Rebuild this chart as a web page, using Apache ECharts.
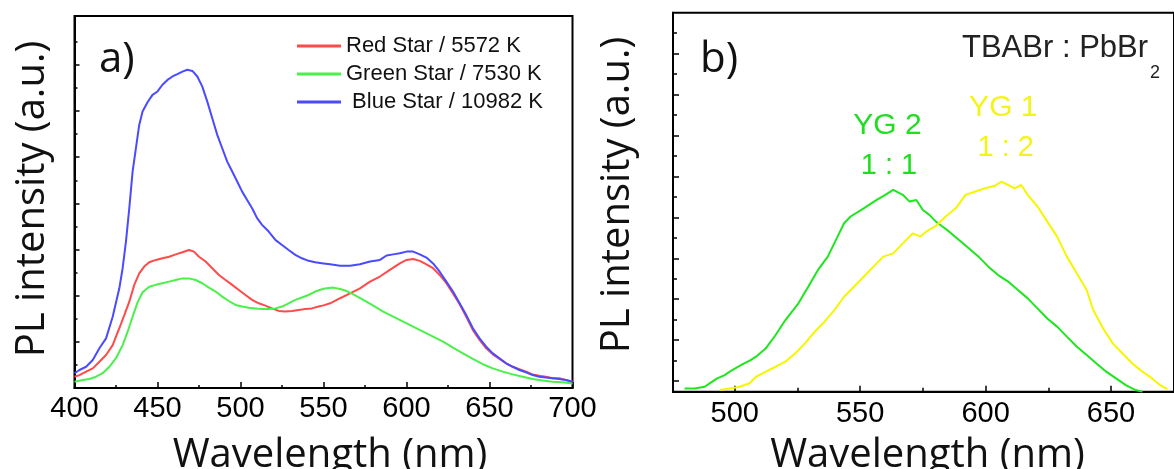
<!DOCTYPE html>
<html><head><meta charset="utf-8">
<script src="https://cdn.jsdelivr.net/npm/echarts@6/dist/echarts.min.js"></script>
<style>html,body{margin:0;padding:0;background:#fff}#c{width:1174px;height:469px}</style>
</head><body><div id="c"></div>
<script>
// ---- Panel a) data (PL intensity, arbitrary units) ----
const redX = [400,403,407,411,415,419,423,427,430,433,436,439,442,445,449,453,457,461,465,469,472,475,479,483,487,491,495,499,503,507,511,515,519,523,527,531,535,539,543,547,550,554,560,566,572,578,584,590,596,600,604,608,612,616,620,624,628,632,636,640,644,648,652,656,660,664,668,672,676,680,684,688,692,696,700];
const redY = [0.49,0.56,0.71,0.85,1.14,1.43,1.86,2.59,3.16,3.74,4.47,4.97,5.26,5.45,5.55,5.62,5.69,5.79,5.88,5.98,5.91,5.69,5.48,5.19,4.9,4.68,4.47,4.25,4.03,3.82,3.67,3.57,3.45,3.34,3.31,3.34,3.38,3.42,3.45,3.53,3.58,3.67,3.89,4.1,4.32,4.61,4.83,5.12,5.4,5.55,5.59,5.51,5.36,5.19,4.9,4.54,4.1,3.63,3.09,2.51,2.08,1.72,1.46,1.26,1.07,0.92,0.82,0.71,0.59,0.53,0.49,0.42,0.42,0.35,0.27];
const greenX = [400,405,409,413,417,421,425,429,432,435,438,441,445,449,453,457,461,465,469,473,477,481,485,489,493,497,501,505,509,513,517,521,525,529,533,537,541,545,550,552,556,560,564,568,574,580,586,592,598,604,610,616,622,628,634,640,646,652,658,664,670,676,682,688,694,700];
const greenY = [0.27,0.35,0.39,0.49,0.64,0.92,1.29,1.86,2.44,3.09,3.71,4.15,4.39,4.47,4.54,4.61,4.68,4.75,4.75,4.68,4.54,4.35,4.18,3.96,3.77,3.6,3.53,3.48,3.45,3.42,3.42,3.45,3.53,3.67,3.82,3.92,4.03,4.18,4.3,4.32,4.35,4.29,4.2,4.06,3.82,3.57,3.31,3.09,2.88,2.66,2.44,2.23,2.01,1.75,1.5,1.26,1.03,0.85,0.71,0.59,0.49,0.39,0.33,0.27,0.25,0.2];
const blueX = [400,403,407,411,415,419,423,427,429,431,433,435,437,439,441,444,447,450,453,456,459,462,465,468,471,474,477,480,483,486,489,492,495,498,501,504,507,510,513,517,521,525,529,533,537,541,545,550,554,560,566,572,578,584,588,592,596,600,604,608,612,616,620,624,628,632,636,640,644,648,652,656,660,664,668,672,676,680,684,688,692,696,700];
const blueY = [0.64,0.78,0.92,1.21,1.72,2.15,3.09,4.32,5.19,6.34,7.79,9.38,10.39,11.4,11.98,12.38,12.7,12.85,13.14,13.35,13.5,13.6,13.71,13.79,13.74,13.5,13.06,12.41,11.69,10.97,10.39,9.81,9.38,8.95,8.51,8.15,7.79,7.36,7.07,6.78,6.42,6.2,5.98,5.77,5.62,5.51,5.45,5.4,5.36,5.3,5.3,5.36,5.48,5.55,5.74,5.79,5.84,5.91,5.91,5.79,5.65,5.4,5.04,4.61,4.18,3.67,3.16,2.59,2.15,1.79,1.5,1.29,1.07,0.92,0.78,0.68,0.56,0.49,0.45,0.42,0.39,0.35,0.27];
const seriesNamesA = ['Red Star / 5572 K', 'Green Star / 7530 K', ' Blue Star / 10982 K'];

// ---- Panel b) data ----
const yg2X = [480,484,488,490,493,496,499,503,506,508.5,512.4,516.3,520.2,525.4,529.3,533.2,537.1,541,543.6,546.2,551.4,556.6,560,563.2,567,569.7,572.4,575,577.6,580.2,582.8,585.5,589.4,593.3,597.2,601.1,605,609,612.9,616.8,620.7,624.6,628.5,632.4,636.4,640.3,644.2,648.1,652,655.9,659.8,662.5];
const yg2Y = [-0.36,-0.36,-0.28,-0.11,0.13,0.29,0.54,0.81,1.0,1.19,1.6,2.25,2.98,3.8,4.61,5.43,6.08,7.06,7.71,8.04,8.44,8.85,9.1,9.34,9.1,8.77,8.85,8.36,8.12,7.79,7.55,7.3,6.89,6.49,6.08,5.59,5.18,4.86,4.45,4.04,3.55,3.06,2.66,2.17,1.68,1.27,0.86,0.46,0.13,-0.2,-0.44,-0.52];
const yg1X = [494.1,498,502,505.9,508.5,512.4,516.3,520.2,524.1,528,531.9,535.8,539.7,543.6,547.5,551.4,555.3,559.2,563.2,567,571,574,576.3,580.2,584.1,588.1,592,595.9,599.8,603.7,606.3,609,611.6,614.2,616.8,620.7,624.6,628.5,632.4,636.4,640.3,642.9,646.8,650.7,654.6,658.5,662.5,666.4,669.6,672.5];
const yg1Y = [-0.44,-0.36,-0.28,-0.11,0.21,0.46,0.7,0.95,1.35,1.84,2.41,2.9,3.47,4.12,4.61,5.1,5.59,6.08,6.24,6.73,7.22,7.06,7.3,7.58,8.04,8.44,9.1,9.26,9.42,9.54,9.75,9.58,9.42,9.58,9.1,8.53,7.79,7.06,6.08,5.26,4.45,3.47,2.58,1.84,1.35,0.86,0.46,0.13,-0.2,-0.4];

// ---- Tick values ----
const xTicksA = [400,450,500,550,600,650,700];
const yMajorA = [2,4,6,8,10,12,14];
const yMinorA = [1,3,5,7,9,11,13,15];
const xMajorB = [500,550,600,650];
const xMinorB = [525,575,625];
const yMajorB = [0,2,4,6,8,10,12,14,16];
const yMinorB = [1,3,5,7,9,11,13,15,17];

const zip = (xs, ys) => xs.map((x, i) => [x, ys[i]]);
const BLACK = '#000';
const TICKFONT = 'Liberation Sans';
const TITLEFONT = "'Open Sans', 'Noto Sans', sans-serif";

function lineAxisStyle(show) {
  return {show: show, onZero: false, lineStyle: {color: BLACK, width: 2}};
}
function tickStyle(len, values) {
  const t = {show: true, inside: true, length: len, lineStyle: {color: BLACK, width: 1.5}};
  if (values) t.customValues = values;
  return t;
}

function txt(x, y, text, font, fill, align, rot) {
  return {
    type: 'text', x: x, y: y, rotation: rot || 0, z: 100,
    style: {text: text, font: font, fill: fill,
      textAlign: align || 'center', textVerticalAlign: 'middle',
      align: align || 'center', verticalAlign: 'middle'}
  };
}

// place the subscript right after the formula text
const formulaFont = '31px ' + TICKFONT;
const formulaText = 'TBABr : PbBr';
const mctx = document.createElement('canvas').getContext('2d');
mctx.font = formulaFont;
const formulaX = 962;
const subX = formulaX + mctx.measureText(formulaText).width + 2;

const chart = echarts.init(document.getElementById('c'), null, {renderer: 'canvas'});
chart.setOption({
  animation: false,
  backgroundColor: '#fff',
  grid: [
    {left: 74.5, top: 16, width: 498, height: 372, show: true, borderColor: BLACK, borderWidth: 2, backgroundColor: 'transparent'},
    {left: 673, top: 12.7, right: -9, height: 379, show: true, borderColor: BLACK, borderWidth: 2, backgroundColor: 'transparent'}
  ],
  xAxis: [
    {gridIndex: 0, type: 'value', min: 400, max: 700, interval: 50,
      axisLine: lineAxisStyle(true), axisTick: tickStyle(6),
      minorTick: {show: true, splitNumber: 2, length: 3, lineStyle: {color: BLACK, width: 1.5}},
      axisLabel: {margin: 6, fontSize: 29, fontFamily: TICKFONT, color: BLACK},
      splitLine: {show: false}, minorSplitLine: {show: false}},
    {gridIndex: 1, type: 'value', min: 475.4, max: 675.1, position: 'bottom',
      axisLine: lineAxisStyle(true), axisTick: tickStyle(6, xMajorB),
      axisLabel: {margin: 8, fontSize: 29, fontFamily: TICKFONT, color: BLACK, customValues: xMajorB},
      splitLine: {show: false}},
    {gridIndex: 1, type: 'value', min: 475.4, max: 675.1, position: 'bottom',
      axisLine: lineAxisStyle(false), axisTick: tickStyle(4, xMinorB),
      axisLabel: {show: false}, splitLine: {show: false}}
  ],
  yAxis: [
    {gridIndex: 0, type: 'value', min: 0, max: 16.12, position: 'left',
      axisLine: lineAxisStyle(true), axisTick: tickStyle(5, yMajorA),
      axisLabel: {show: false}, splitLine: {show: false}},
    {gridIndex: 0, type: 'value', min: 0, max: 16.12, position: 'left',
      axisLine: lineAxisStyle(false), axisTick: tickStyle(3, yMinorA),
      axisLabel: {show: false}, splitLine: {show: false}},
    {gridIndex: 1, type: 'value', min: -0.52, max: 18, position: 'left',
      axisLine: lineAxisStyle(true), axisTick: tickStyle(6, yMajorB),
      axisLabel: {show: false}, splitLine: {show: false}},
    {gridIndex: 1, type: 'value', min: -0.52, max: 18, position: 'left',
      axisLine: lineAxisStyle(false), axisTick: tickStyle(4, yMinorB),
      axisLabel: {show: false}, splitLine: {show: false}}
  ],
  legend: {
    data: seriesNamesA, orient: 'vertical', left: 297, top: 35,
    icon: 'rect', itemWidth: 44, itemHeight: 3, itemGap: 6, padding: 0,
    textStyle: {fontFamily: TICKFONT, fontSize: 22, color: '#111'}
  },
  series: [
    {type: 'line', name: seriesNamesA[0], xAxisIndex: 0, yAxisIndex: 0, data: zip(redX, redY), symbol: 'none',
      lineStyle: {color: '#ff4a4a', width: 2}, itemStyle: {color: '#ff4a4a'}},
    {type: 'line', name: seriesNamesA[1], xAxisIndex: 0, yAxisIndex: 0, data: zip(greenX, greenY), symbol: 'none',
      lineStyle: {color: '#4cf04c', width: 2}, itemStyle: {color: '#4cf04c'}},
    {type: 'line', name: seriesNamesA[2], xAxisIndex: 0, yAxisIndex: 0, data: zip(blueX, blueY), symbol: 'none',
      lineStyle: {color: '#4a4aff', width: 2}, itemStyle: {color: '#4a4aff'}},
    {type: 'line', name: 'YG 2', xAxisIndex: 1, yAxisIndex: 2, data: zip(yg2X, yg2Y), symbol: 'none',
      lineStyle: {color: '#1ee61e', width: 2}, itemStyle: {color: '#1ee61e'}},
    {type: 'line', name: 'YG 1', xAxisIndex: 1, yAxisIndex: 2, data: zip(yg1X, yg1Y), symbol: 'none',
      lineStyle: {color: '#f6f600', width: 2}, itemStyle: {color: '#f6f600'}}
  ],
  graphic: [
    txt(33, 199, 'PL intensity (a.u.)', '40px ' + TITLEFONT, '#111', 'center', Math.PI / 2),
    txt(330, 456, 'Wavelength (nm)', '40px ' + TITLEFONT, '#111', 'center'),
    txt(618, 195, 'PL intensity (a.u.)', '40px ' + TITLEFONT, '#111', 'center', Math.PI / 2),
    txt(927.5, 456, 'Wavelength (nm)', '40px ' + TITLEFONT, '#111', 'center'),
    txt(99, 60, 'a)', '42px ' + TITLEFONT, '#111', 'left'),
    txt(700, 60, 'b)', '42px ' + TITLEFONT, '#111', 'left'),
    txt(formulaX, 48.5, formulaText, formulaFont, '#222', 'left'),
    txt(subX, 73.5, '2', '18px ' + TICKFONT, '#222', 'left'),
    txt(887.5, 125.7, 'YG 2', '30px ' + TICKFONT, '#22dd22', 'center'),
    txt(889, 166.4, '1 : 1', '29px ' + TICKFONT, '#22dd22', 'center'),
    txt(1003.3, 107.4, 'YG 1', '30px ' + TICKFONT, '#f4f41c', 'center'),
    txt(1005.7, 148.4, '1 : 2', '29px ' + TICKFONT, '#f4f41c', 'center')
  ]
});
</script>
</body></html>
